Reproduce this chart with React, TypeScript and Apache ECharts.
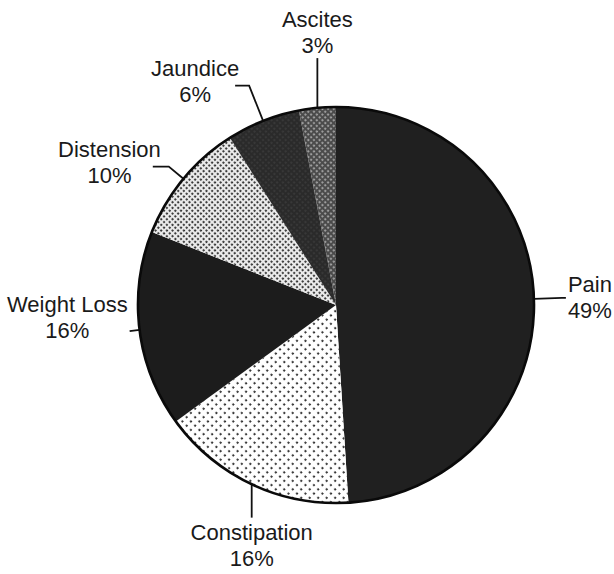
import React, { useEffect, useRef } from "react";
import * as echarts from "echarts";

// Presenting symptoms, share of patients (%)
const categories = ["Pain", "Constipation", "Weight Loss", "Distension", "Jaundice", "Ascites"];
const percentages = [49, 16, 16, 10, 6, 3];

const FONT = "'Liberation Sans', Arial, Helvetica, sans-serif";
const TEXT_COLOR = "#1a1a1a";
const LINE_COLOR = "#111111";

type SliceStyle = {
  fill: string;
  decal?: {
    symbol: string;
    color: string;
    dashArrayX: number[];
    dashArrayY: number[];
    rotation?: number;
  };
  lead: [number, number];
  place: "side" | "above" | "below";
  dx?: number;
  dy?: number;
};

// Screen-tone look of each slice and the shape of its leader line
const sliceStyles: Record<string, SliceStyle> = {
  Pain: { fill: "#202020", lead: [28, 4], place: "side" },
  Constipation: {
    fill: "#ffffff",
    decal: { symbol: "circle", color: "#151515", dashArrayX: [2.0, 3.4], dashArrayY: [2.0, 3.4], rotation: Math.PI / 4 },
    lead: [37, 0],
    place: "below",
  },
  "Weight Loss": { fill: "#1c1c1c", lead: [10, 0], place: "side", dy: -14 },
  Distension: {
    fill: "#ececec",
    decal: { symbol: "circle", color: "#1a1a1a", dashArrayX: [1.6, 1.7], dashArrayY: [1.6, 1.7], rotation: Math.PI / 4 },
    lead: [19, 16],
    place: "side",
    dx: 10,
    dy: -4,
  },
  Jaundice: {
    fill: "#2a2a2a",
    decal: { symbol: "circle", color: "#3a3a3a", dashArrayX: [1.6, 1.8], dashArrayY: [1.6, 1.8], rotation: Math.PI / 4 },
    lead: [38, 14],
    place: "side",
    dx: 6,
    dy: -4,
  },
  Ascites: {
    fill: "#4a4a4a",
    decal: { symbol: "circle", color: "#ababab", dashArrayX: [1.8, 1.6], dashArrayY: [1.8, 1.6], rotation: Math.PI / 4 },
    lead: [50, 0],
    place: "above",
  },
};

const CENTER = [336, 305];
const RADIUS = 198;

export default function App() {
  const ref = useRef<HTMLDivElement>(null);

  useEffect(() => {
    if (!ref.current) return;
    const chart = echarts.init(ref.current, undefined, { renderer: "svg" });

    const data = categories.map((name, i) => {
      const s = sliceStyles[name];
      return {
        name,
        value: percentages[i],
        itemStyle: {
          color: s.fill,
          decal: s.decal
            ? { ...s.decal, symbolSize: 1, maxTileWidth: 512, maxTileHeight: 512 }
            : undefined,
        },
        labelLine: { length: s.lead[0], length2: s.lead[1] },
      };
    });

    chart.setOption({
      animation: false,
      backgroundColor: "#ffffff",
      series: [
        {
          type: "pie",
          center: CENTER,
          radius: RADIUS,
          startAngle: 90,
          clockwise: true,
          avoidLabelOverlap: false,
          silent: true,
          itemStyle: { borderWidth: 0 },
          label: {
            show: true,
            position: "outside",
            distanceToLabelLine: 2,
            formatter: (p: any) => `{t|${p.name}}\n{t|${p.value}%}`,
            rich: {
              t: {
                fontFamily: FONT,
                fontSize: 22,
                lineHeight: 26,
                color: TEXT_COLOR,
                align: "center",
              },
            },
          },
          labelLine: {
            show: true,
            smooth: false,
            lineStyle: { color: LINE_COLOR, width: 1.8 },
          },
          labelLayout: (params: any) => {
            if (params.seriesIndex !== 0) return {};
            const s = sliceStyles[categories[params.dataIndex]];
            const pts = params.labelLinePoints;
            if (!s || !pts) return {};
            if (s.place === "above" || s.place === "below") {
              // straight vertical leader from the rim, text centred on its end
              const start = pts[0];
              const end = [start[0], pts[1][1]];
              return {
                x: end[0],
                y: end[1] + (s.place === "above" ? 0 : 2),
                align: "center",
                verticalAlign: s.place === "above" ? "bottom" : "top",
                labelLinePoints: [start, end, end],
              };
            }
            const out: any = {};
            if (s.dx) out.dx = s.dx;
            if (s.dy) out.dy = s.dy;
            return out;
          },
          data,
          z: 2,
        },
        {
          // outer rim of the pie
          type: "pie",
          center: CENTER,
          radius: RADIUS,
          silent: true,
          label: { show: false },
          labelLine: { show: false },
          itemStyle: { color: "rgba(0,0,0,0)", borderColor: "#0a0a0a", borderWidth: 2.6 },
          data: [{ name: "rim", value: 1 }],
          z: 3,
        },
      ],
    });

    return () => chart.dispose();
  }, []);

  return (
    <div
      ref={ref}
      style={{ position: "fixed", left: 0, top: 0, width: 614, height: 574, background: "#fff" }}
    />
  );
}
